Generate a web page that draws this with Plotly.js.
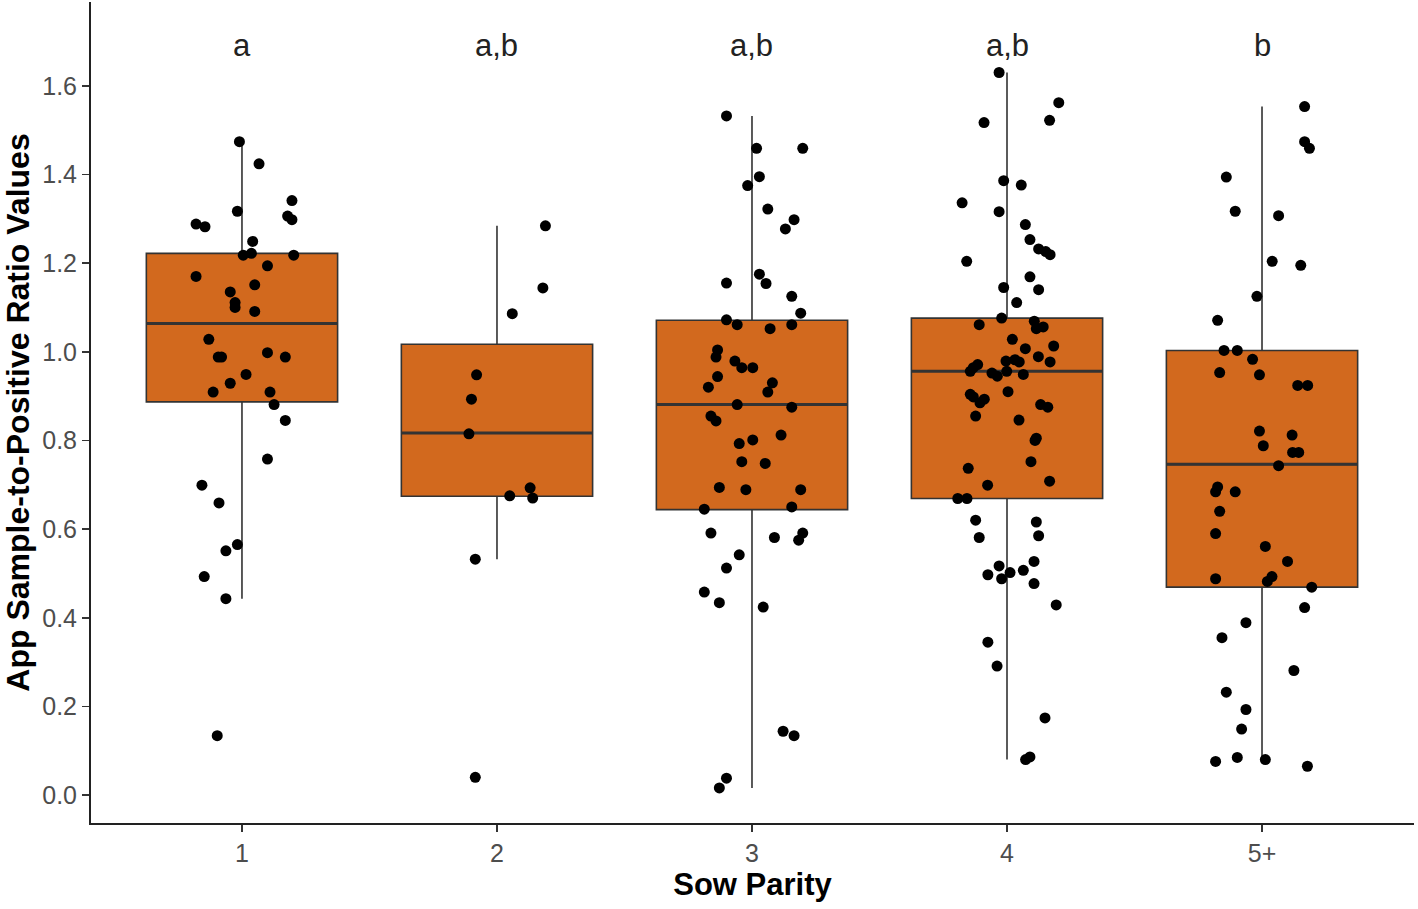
<!DOCTYPE html>
<html>
<head>
<meta charset="utf-8">
<script src="https://cdn.plot.ly/plotly-3.0.1.min.js"></script>
<style>html,body{margin:0;padding:0;background:#fff;}#chart{width:1418px;height:909px;}</style>
</head>
<body>
<div id="chart"></div>
<script>
// Categories and tick labels
const groupPos = [1, 2, 3, 4, 5];
const groupLabels = ["1", "2", "3", "4", "5+"];
const sigLetters = ["a", "a,b", "a,b", "a,b", "b"];
const letterY = 1.69;

// Box statistics
const q1 = [0.887, 0.674, 0.644, 0.669, 0.469];
const med = [1.064, 0.817, 0.881, 0.956, 0.746];
const q3 = [1.222, 1.017, 1.071, 1.076, 1.003];
const lowerWhisker = [0.443, 0.532, 0.016, 0.080, 0.080];
const upperWhisker = [1.474, 1.284, 1.532, 1.630, 1.553];

// Jittered observations: values and horizontal jitter (category units)
const g1 = [1.474,1.424,1.341,1.317,1.306,1.298,1.288,1.282,1.249,1.218,1.222,1.218,1.194,1.170,1.151,1.135,1.111,1.100,1.091,1.028,0.988,0.988,0.998,0.988,0.949,0.929,0.909,0.909,0.881,0.845,0.758,0.699,0.659,0.565,0.551,0.493,0.443,0.134];
const j1 = [-0.010,0.067,0.196,-0.018,0.179,0.196,-0.180,-0.145,0.042,0.005,0.037,0.203,0.100,-0.180,0.050,-0.046,-0.027,-0.027,0.050,-0.130,-0.093,-0.080,0.100,0.170,0.016,-0.046,-0.113,0.110,0.126,0.170,0.100,-0.157,-0.090,-0.018,-0.063,-0.148,-0.063,-0.097];

const g2 = [1.284,1.144,1.086,0.948,0.893,0.815,0.693,0.675,0.670,0.532,0.040];
const j2 = [0.190,0.180,0.060,-0.080,-0.100,-0.110,0.130,0.050,0.140,-0.085,-0.085];

const g3 = [1.532,1.459,1.459,1.395,1.375,1.322,1.298,1.277,1.175,1.155,1.154,1.125,1.087,1.072,1.061,1.052,1.061,1.004,0.988,0.979,0.964,0.964,0.944,0.920,0.930,0.909,0.881,0.875,0.855,0.844,0.812,0.801,0.793,0.752,0.748,0.694,0.689,0.689,0.645,0.650,0.591,0.581,0.591,0.575,0.542,0.512,0.458,0.434,0.424,0.144,0.134,0.038,0.016];
const j3 = [-0.100,0.018,0.199,0.029,-0.017,0.062,0.165,0.131,0.029,-0.100,0.055,0.156,0.191,-0.100,-0.058,0.071,0.156,-0.135,-0.141,-0.067,-0.040,0.003,-0.135,-0.171,0.080,0.062,-0.058,0.156,-0.161,-0.141,0.114,0.003,-0.050,-0.040,0.052,-0.128,-0.024,0.191,-0.187,0.156,-0.161,0.088,0.199,0.183,-0.050,-0.100,-0.187,-0.128,0.044,0.122,0.165,-0.100,-0.128];

const g4 = [1.630,1.562,1.522,1.517,1.386,1.376,1.336,1.316,1.287,1.253,1.232,1.226,1.219,1.204,1.169,1.145,1.140,1.111,1.076,1.061,1.069,1.052,1.056,1.028,1.007,1.013,0.989,0.977,0.979,0.982,0.977,0.971,0.964,0.956,0.956,0.952,0.945,0.949,0.904,0.898,0.893,0.885,0.910,0.881,0.875,0.855,0.846,0.805,0.800,0.752,0.737,0.708,0.699,0.669,0.669,0.620,0.616,0.581,0.585,0.527,0.517,0.507,0.502,0.497,0.488,0.477,0.429,0.345,0.291,0.174,0.086,0.080];
const j4 = [-0.031,0.203,0.167,-0.090,-0.013,0.056,-0.176,-0.031,0.072,0.090,0.124,0.152,0.169,-0.158,0.090,-0.013,0.124,0.038,-0.021,-0.109,0.107,0.115,0.142,0.021,0.072,0.183,0.123,0.169,-0.004,0.031,0.048,-0.115,-0.132,-0.144,-0.001,-0.059,-0.038,0.064,-0.144,-0.132,-0.089,-0.106,0.004,0.132,0.160,-0.123,0.047,0.115,0.110,0.094,-0.152,0.167,-0.076,-0.193,-0.157,-0.123,0.115,-0.109,0.124,0.106,-0.031,0.064,0.012,-0.075,-0.021,0.106,0.193,-0.075,-0.039,0.149,0.090,0.073];

const g5 = [1.553,1.474,1.459,1.394,1.317,1.307,1.204,1.195,1.125,1.071,1.003,1.003,0.983,0.953,0.948,0.924,0.924,0.821,0.812,0.788,0.773,0.773,0.743,0.695,0.684,0.684,0.640,0.590,0.561,0.527,0.488,0.482,0.493,0.469,0.423,0.389,0.355,0.281,0.232,0.193,0.149,0.076,0.085,0.080,0.065];
const j5 = [0.167,0.167,0.186,-0.140,-0.105,0.065,0.040,0.152,-0.020,-0.174,-0.149,-0.097,-0.037,-0.166,-0.010,0.140,0.179,-0.010,0.118,0.005,0.120,0.144,0.065,-0.174,-0.182,-0.105,-0.166,-0.182,0.013,0.100,-0.182,0.021,0.039,0.195,0.167,-0.063,-0.157,0.125,-0.140,-0.063,-0.080,-0.182,-0.097,0.013,0.178];

const values = [g1, g2, g3, g4, g5];
const jitters = [j1, j2, j3, j4, j5];
const boxWidth = 0.75;

const ptsX = [], ptsY = [];
values.forEach((arr, gi) => {
  arr.forEach((v, k) => { ptsX.push(groupPos[gi] + jitters[gi][k]); ptsY.push(v); });
});

// thicker median segments (ggplot draws the median bolder than the box outline)
const medX = [], medY = [];
groupPos.forEach((p, i) => {
  medX.push(p - boxWidth / 2, p + boxWidth / 2, null);
  medY.push(med[i], med[i], null);
});

const boxTrace = {
  type: 'box',
  x: groupPos,
  q1: q1, median: med, q3: q3,
  lowerfence: lowerWhisker, upperfence: upperWhisker,
  boxpoints: false,
  width: boxWidth,
  whiskerwidth: 0,
  fillcolor: '#D2691E',
  line: { color: '#333333', width: 1.6 },
  hoverinfo: 'skip',
  showlegend: false
};

const medianTrace = {
  type: 'scatter', mode: 'lines',
  x: medX, y: medY,
  line: { color: '#333333', width: 3 },
  hoverinfo: 'skip', showlegend: false
};

const pointTrace = {
  type: 'scatter', mode: 'markers',
  x: ptsX, y: ptsY,
  marker: { color: '#000000', size: 11 },
  hoverinfo: 'skip', showlegend: false
};

const annotations = sigLetters.map((t, i) => ({
  x: groupPos[i], y: letterY, xref: 'x', yref: 'y',
  text: t, showarrow: false,
  font: { family: 'Liberation Sans, Arial, sans-serif', size: 31, color: '#222222' }
}));

const layout = {
  width: 1418, height: 909,
  margin: { l: 91, r: 4, t: 2, b: 86 },
  paper_bgcolor: '#ffffff', plot_bgcolor: '#ffffff',
  font: { family: 'Liberation Sans, Arial, sans-serif' },
  showlegend: false,
  xaxis: {
    range: [0.408, 5.596],
    tickvals: groupPos, ticktext: groupLabels,
    showgrid: false, zeroline: false,
    showline: true, linecolor: '#222222', linewidth: 2,
    ticks: 'outside', ticklen: 7, tickwidth: 1.5, tickcolor: '#333333',
    tickfont: { size: 25, color: '#4d4d4d' },
    title: { text: '<b>Sow Parity</b>', font: { size: 31, color: '#000000' }, standoff: 6 }
  },
  yaxis: {
    range: [-0.063, 1.789],
    tickvals: [0, 0.2, 0.4, 0.6, 0.8, 1.0, 1.2, 1.4, 1.6],
    ticktext: ['0.0','0.2','0.4','0.6','0.8','1.0','1.2','1.4','1.6'],
    showgrid: false, zeroline: false,
    showline: true, linecolor: '#222222', linewidth: 2,
    ticks: 'outside', ticklen: 7, tickwidth: 1.5, tickcolor: '#333333',
    tickfont: { size: 25, color: '#4d4d4d' },
    title: { text: '<b>App Sample-to-Positive Ratio Values</b>', font: { size: 32, color: '#000000' }, standoff: 6 }
  },
  annotations: annotations
};

Plotly.newPlot('chart', [boxTrace, medianTrace, pointTrace], layout, { displayModeBar: false, staticPlot: true });
</script>
</body>
</html>
